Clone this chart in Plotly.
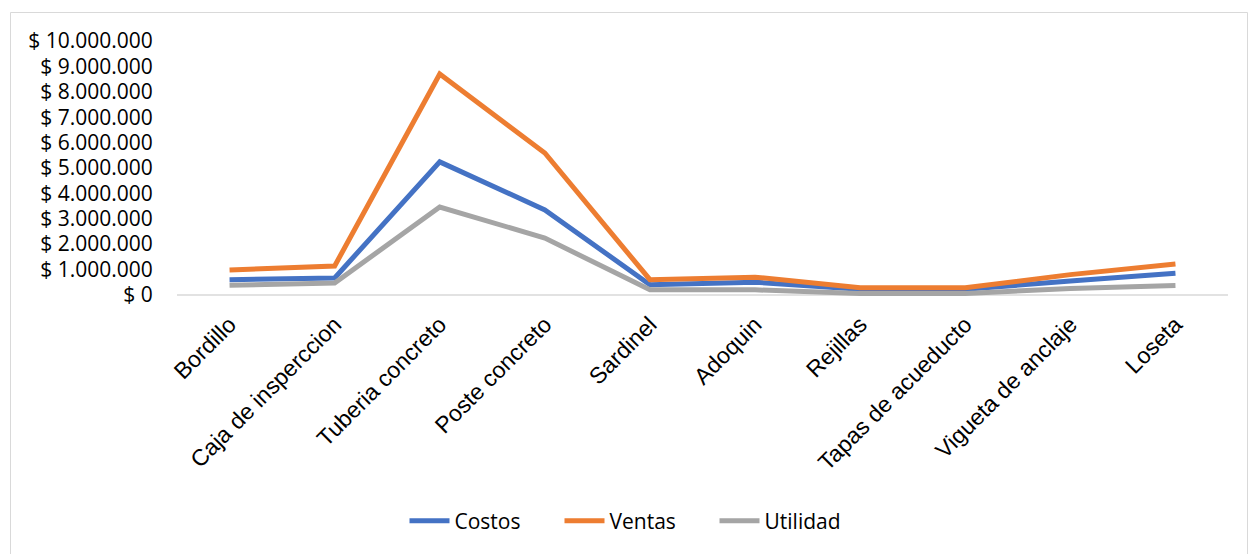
import plotly.graph_objects as go

# Product categories and monthly figures (COP)
productos = ["Bordillo", "Caja de insperccion", "Tuberia concreto", "Poste concreto",
             "Sardinel", "Adoquin", "Rejillas", "Tapas de acueducto",
             "Vigueta de anclaje", "Loseta"]
costos = [600000, 670000, 5240000, 3350000, 400000, 500000, 220000, 220000, 550000, 850000]
ventas = [980000, 1140000, 8700000, 5590000, 600000, 700000, 280000, 280000, 800000, 1220000]
utilidad = [380000, 470000, 3460000, 2240000, 200000, 200000, 60000, 60000, 250000, 370000]

tick_vals = [0, 1e6, 2e6, 3e6, 4e6, 5e6, 6e6, 7e6, 8e6, 9e6, 10e6]
tick_text = ["$ 0", "$ 1.000.000", "$ 2.000.000", "$ 3.000.000", "$ 4.000.000",
             "$ 5.000.000", "$ 6.000.000", "$ 7.000.000", "$ 8.000.000",
             "$ 9.000.000", "$ 10.000.000"]

W, H = 1248, 554
L, R, T, B = 177, 20, 41, 254          # plot area margins in px
pw, ph = W - L - R, H - T - B

def px_x(x):
    return (x - L) / pw

def px_y(y):
    return (H - B - y) / ph

fig = go.Figure()
series = [("Costos", costos, "#4472C4"),
          ("Ventas", ventas, "#ED7D31"),
          ("Utilidad", utilidad, "#A5A5A5")]
for name, vals, color in series:
    fig.add_trace(go.Scatter(
        x=productos, y=vals, name=name, mode="lines",
        line=dict(color=color, width=5),
    ))

fig.update_layout(
    width=W, height=H,
    margin=dict(l=L, r=R, t=T, b=B),
    paper_bgcolor="white", plot_bgcolor="white",
    font=dict(family="Open Sans, Arial, sans-serif", size=20, color="#000000"),
    showlegend=True,
    legend=dict(orientation="h", x=px_x(637), xanchor="center",
                y=px_y(521), yanchor="middle",
                font=dict(family="Open Sans, sans-serif", size=21),
                entrywidth=100, entrywidthmode="pixels",
                itemwidth=40, tracegroupgap=0),
    xaxis=dict(
        showgrid=False, zeroline=False, showline=False,
        tickangle=-45, ticks="outside", ticklen=1, tickcolor="rgba(0,0,0,0)",
        tickfont=dict(family="Liberation Sans, Arial, sans-serif", size=23),
        range=[-0.5, len(productos) - 0.5],
    ),
    yaxis=dict(
        showgrid=False, zeroline=False, showline=False,
        range=[-0.2e6, 10e6],
        tickvals=tick_vals, ticktext=tick_text,
        ticks="outside", ticklen=19, tickcolor="rgba(0,0,0,0)",
        tickfont=dict(family="Open Sans, sans-serif", size=21),
    ),
    shapes=[
        # category axis line at zero
        dict(type="line", xref="paper", yref="y", x0=0, x1=1, y0=0, y1=0,
             line=dict(color="#D9D9D9", width=1.5), layer="below"),
        # chart border
        dict(type="rect", xref="paper", yref="paper",
             x0=px_x(10.5), x1=px_x(1247.5), y0=px_y(560), y1=px_y(12.5),
             line=dict(color="#D9D9D9", width=1), layer="below"),
    ],
)

fig.write_html("out.html")
